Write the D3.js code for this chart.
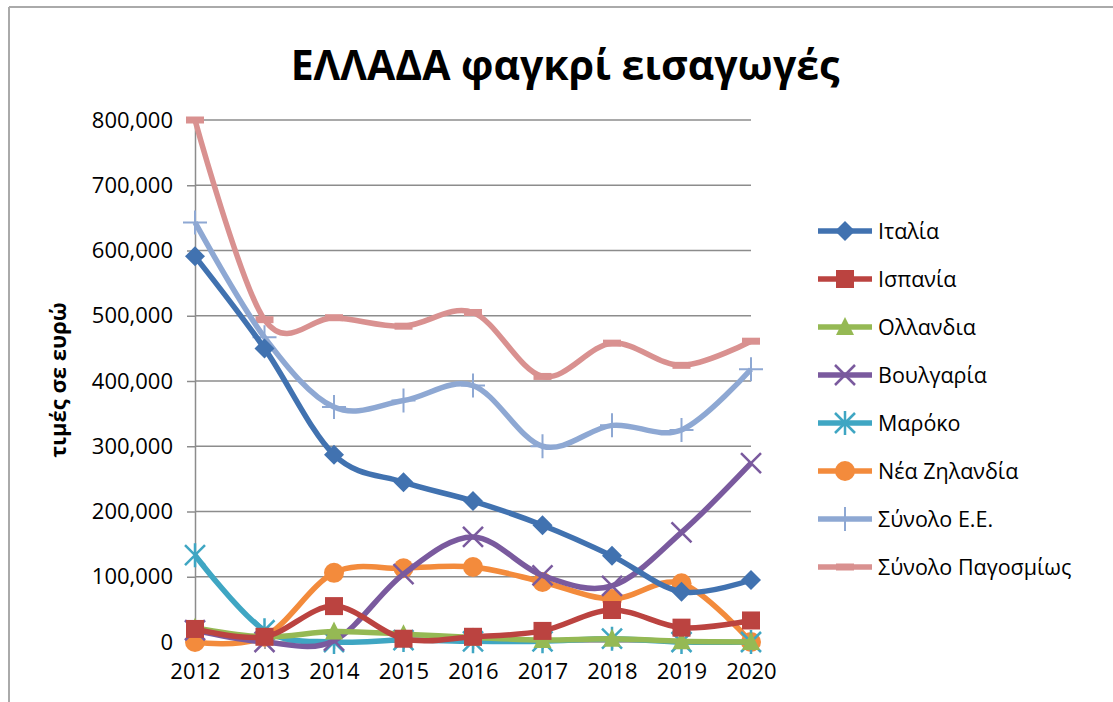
<!DOCTYPE html>
<meta charset="utf-8">
<style>
body { margin: 0; background: #fff; }
svg { font-family: "Open Sans", "Noto Sans", sans-serif; }
.grid line { stroke: #8c8c8c; stroke-width: 1.5; }
.axis path, .axis line { stroke: #8c8c8c; stroke-width: 1.5; }
.axis text { fill: #000; font-size: 22px; font-family: "Open Sans", "Noto Sans", sans-serif; }
</style>
<body>
<script src="https://cdn.jsdelivr.net/npm/d3@7"></script>
<script>

// data
var years = ["2012", "2013", "2014", "2015", "2016", "2017", "2018", "2019", "2020"];
var italia     = [591000, 450000, 287000, 245000, 216000, 179000, 132000, 77000, 95000];
var ispania    = [20000, 8000, 55000, 5000, 8000, 17000, 49000, 22000, 33000];
var ollandia   = [22000, 8000, 16000, 12000, 7000, 3000, 5000, 1000, 0];
var voulgaria  = [18000, 0, 2000, 104000, 161000, 102000, 86000, 168000, 274000];
var maroko     = [133000, 18000, 0, 3000, 1000, 1000, 5000, 0, 0];
var neaZilandia = [0, 8000, 106000, 113000, 115000, 92000, 66000, 90000, 0];
var synoloEE   = [643000, 467000, 360000, 370000, 393000, 300000, 332000, 325000, 418000];
var synoloPag  = [800000, 494000, 497000, 484000, 505000, 407000, 458000, 424000, 461000];
var yTicks = [0, 100000, 200000, 300000, 400000, 500000, 600000, 700000, 800000];

var seriesNames = ["Ιταλία", "Ισπανία", "Ολλανδια", "Βουλγαρία", "Μαρόκο", "Νέα Ζηλανδία", "Σύνολο Ε.Ε.", "Σύνολο Παγοσμίως"];
var seriesValues = [italia, ispania, ollandia, voulgaria, maroko, neaZilandia, synoloEE, synoloPag];
var seriesColors = ["#4172b0", "#bb4340", "#95b954", "#7a5a9e", "#3fa6c3", "#f38b3c", "#8ea8d3", "#d99190"];
var seriesMarkers = ["diamond", "square", "triangle", "x", "star", "circle", "plus", "dash"];

var W = 1113, H = 702;
var margin = {top: 120, left: 195};
var plotW = 556, plotH = 522;

var svg = d3.select("body").append("svg")
    .attr("width", W)
    .attr("height", H);

// frame of the chart (only top and left edges are visible)
svg.append("line").attr("x1", 9).attr("x2", W).attr("y1", 7).attr("y2", 7)
    .attr("stroke", "#aaaaaa").attr("stroke-width", 2);
svg.append("line").attr("x1", 9).attr("x2", 9).attr("y1", 7).attr("y2", H)
    .attr("stroke", "#aaaaaa").attr("stroke-width", 2);

// title
svg.append("text")
    .attr("x", 565).attr("y", 80)
    .attr("text-anchor", "middle")
    .style("font-size", "41px")
    .style("font-weight", "bold")
    .text("ΕΛΛΑΔΑ φαγκρί εισαγωγές");

var g = svg.append("g")
    .attr("transform", "translate(" + margin.left + "," + margin.top + ")");

var x = d3.scalePoint().domain(years).range([0, plotW]);
var y = d3.scaleLinear().domain([0, 800000]).range([plotH, 0]);

// gridlines
g.append("g").attr("class", "grid")
  .selectAll("line")
  .data(yTicks.slice(1))
  .enter().append("line")
    .attr("x1", 0).attr("x2", plotW)
    .attr("y1", function(d) { return y(d); })
    .attr("y2", function(d) { return y(d); });

// axes
g.append("g").attr("class", "axis")
    .call(d3.axisLeft(y).tickValues(yTicks).tickSize(8).tickPadding(14)
      .tickFormat(d3.format(",")));

g.append("g").attr("class", "axis")
    .attr("transform", "translate(0," + plotH + ")")
    .call(d3.axisBottom(x).tickSize(7).tickPadding(14))
    .call(function(a) { a.select(".domain").attr("d", "M0,0H" + plotW); });

// y axis title
svg.append("text")
    .attr("transform", "translate(66,380) rotate(-90)")
    .attr("text-anchor", "middle")
    .style("font-size", "22px")
    .style("font-weight", "bold")
    .text("τιμές σε ευρώ");

var line = d3.line()
    .x(function(d, i) { return x(years[i]); })
    .y(function(d) { return y(d); })
    .curve(d3.curveCatmullRom.alpha(0));

function drawMarker(sel, type, color) {
  if (type == "diamond") {
    sel.append("path").attr("d", "M0,-10L10,0L0,10L-10,0Z").attr("fill", color);
  } else if (type == "square") {
    sel.append("rect").attr("x", -9).attr("y", -9).attr("width", 18).attr("height", 18).attr("fill", color);
  } else if (type == "triangle") {
    sel.append("path").attr("d", "M0,-10L9,8L-9,8Z").attr("fill", color);
  } else if (type == "x") {
    sel.append("path").attr("d", "M-10,-10L10,10M-10,10L10,-10").attr("stroke", color).attr("stroke-width", 2.5);
  } else if (type == "star") {
    sel.append("path").attr("d", "M-10,-10L10,10M-10,10L10,-10M0,-12V12").attr("stroke", color).attr("stroke-width", 2.5);
  } else if (type == "circle") {
    sel.append("circle").attr("r", 10).attr("fill", color);
  } else if (type == "plus") {
    sel.append("path").attr("d", "M-12,0H12M0,-12V12").attr("stroke", color).attr("stroke-width", 2);
  } else if (type == "dash") {
    sel.append("rect").attr("x", -9).attr("y", -3.5).attr("width", 18).attr("height", 7).attr("fill", color);
  }
}

// draw series, last ones first so Italy sits on top
for (var s = seriesNames.length - 1; s >= 0; s--) {
  var vals = seriesValues[s];
  g.append("path")
    .datum(vals)
    .attr("d", line)
    .attr("fill", "none")
    .attr("stroke", seriesColors[s])
    .attr("stroke-width", 5.5)
    .attr("stroke-linejoin", "round");

  var m = g.append("g").selectAll("g")
    .data(vals)
    .enter().append("g")
      .attr("transform", function(d, i) { return "translate(" + x(years[i]) + "," + y(d) + ")"; });
  drawMarker(m, seriesMarkers[s], seriesColors[s]);
}

// legend
var legend = svg.append("g");
seriesNames.forEach(function(name, i) {
  var ly = 231 + i * 48;
  var item = legend.append("g").attr("transform", "translate(818," + ly + ")");
  item.append("line").attr("x1", 0).attr("x2", 54).attr("y1", 0).attr("y2", 0)
    .attr("stroke", seriesColors[i]).attr("stroke-width", 5.5);
  drawMarker(item.append("g").attr("transform", "translate(27,0)"), seriesMarkers[i], seriesColors[i]);
  item.append("text")
    .attr("x", 60).attr("y", 0).attr("dy", "0.35em")
    .style("font-size", "21.5px")
    .text(name);
});

</script>
</body>
